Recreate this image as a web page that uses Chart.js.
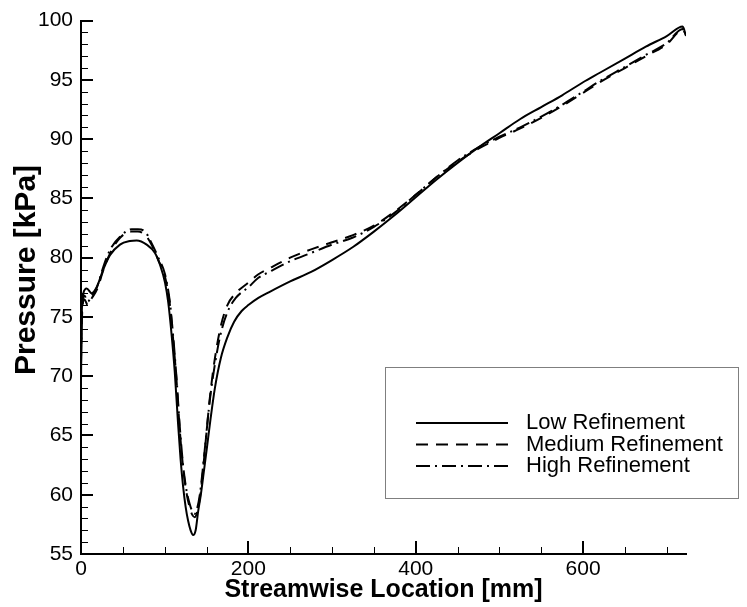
<!DOCTYPE html>
<html><head><meta charset="utf-8">
<script src="https://cdn.jsdelivr.net/npm/chart.js@4.4.1/dist/chart.umd.min.js"></script>
<style>html,body{margin:0;padding:0;background:#fff;}#wrap{width:747px;height:607px;}</style>
</head><body><div id="wrap"><canvas id="c" width="747" height="607"></canvas></div>
<script>
// ---- data (streamwise location [mm], pressure [kPa]) ----
const seriesLabels = ["Low Refinement", "Medium Refinement", "High Refinement"];
const xTitle = "Streamwise Location [mm]";
const yTitle = "Pressure [kPa]";
const lowX = [0,1,2.8,6.8,12.8,18.7,26.6,34.6,46.6,58.5,66.5,78.5,88.4,94.4,100.4,104.3,108.4,112,116,119,122,125,128,131,134,137,140,143,146,150,155,160,167,175,183,192,200,212,225,250,275,300,325,350,375,400,425,450,475,500,525,550,575,600,620,650,675,700,719,723];
const lowY = [69.5,75.5,77.0,77.4,77.0,77.5,79.0,80.2,81.1,81.4,81.45,81.1,80.4,79.4,77.9,76.2,73.4,70.4,66.0,63.0,60.7,59.0,57.8,57.0,56.6,57.0,58.6,59.9,61.5,63.7,66.5,69.0,71.5,73.3,74.6,75.5,76.0,76.6,77.1,78.0,78.8,79.8,80.9,82.2,83.6,85.1,86.6,88.0,89.3,90.5,91.7,92.7,93.7,94.8,95.6,96.8,97.8,98.7,99.5,98.7];
const medX = [0,1.5,4,8,13,19,27,35,47,60,68,77,85,92.4,100.4,106.3,110,114,118,122,126,130,133,136,139,142,145,149,154,160,167,175,185,200,212,225,250,275,300,325,350,375,400,425,450,475,500,525,550,575,600,620,650,675,700,719,723];
const medY = [71,75.5,76.5,76.0,76.6,77.3,79.0,80.4,81.7,82.2,82.2,81.9,81.0,79.8,78.4,76.0,73.2,69.8,65.5,62.3,60.2,58.9,58.3,58.1,58.6,59.7,61.5,64.5,68.2,71.5,74.2,76.0,77.0,77.9,78.6,79.1,80.0,80.7,81.3,81.9,82.7,83.9,85.3,86.8,88.1,89.2,90.1,90.9,91.8,92.8,93.9,94.8,96.0,97.0,98.0,99.2,98.8];
const highX = [0,1.5,4,8,13,19,27,35,48.6,60.5,68,76.5,84.5,92.4,100.4,106.3,110,114,118,122,126,130,133,136,139,142,145,149,154,160,167,175,185,200,212,225,250,275,300,325,350,375,400,425,450,475,500,525,550,575,600,620,650,675,700,719,723];
const highY = [71.5,76,76.8,76.3,76.8,77.5,79.3,80.7,81.9,82.4,82.4,82.2,81.2,80.0,78.6,76.2,73.5,70.0,65.8,62.5,60.4,59.2,58.6,58.4,58.9,60.0,61.8,64.6,68.0,71.0,73.6,75.4,76.6,77.5,78.3,78.8,79.7,80.4,81.1,81.7,82.6,83.8,85.3,86.8,88.2,89.3,90.2,91.0,91.9,92.9,94.0,94.9,96.1,97.1,98.1,99.3,98.9];
const xTickValues = [0,200,400,600];
const yTickValues = [55,60,65,70,75,80,85,90,95,100];
const xMinorValues = [50,100,150,250,300,350,450,500,550,650,700];
const yMinorValues = [];
for (let v = 56; v < 100; v++) if (v % 5 !== 0) yMinorValues.push(v);

const pts = (xs, ys) => xs.map((x, i) => ({x, y: ys[i]}));
const FONT = "'Liberation Sans', Arial, Helvetica, sans-serif";
Chart.defaults.font.family = FONT;
Chart.defaults.color = '#000';

const tickPlugin = {
  id: 'inwardTicks',
  afterDatasetsDraw(chart) {
    const {ctx, chartArea: a, scales: {x, y}} = chart;
    ctx.save();
    ctx.strokeStyle = '#000';
    const drawY = (vals, len, w) => { ctx.lineWidth = w; vals.forEach(v => { const p = Math.round(y.getPixelForValue(v)) + (w % 2 ? 0.5 : 0); ctx.beginPath(); ctx.moveTo(a.left, p); ctx.lineTo(a.left + len, p); ctx.stroke(); }); };
    const drawX = (vals, len, w) => { ctx.lineWidth = w; vals.forEach(v => { const p = Math.round(x.getPixelForValue(v)) + (w % 2 ? 0.5 : 0); ctx.beginPath(); ctx.moveTo(p, a.bottom); ctx.lineTo(p, a.bottom - len); ctx.stroke(); }); };
    drawY(yTickValues, 12, 2); drawY(yMinorValues, 7, 1);
    drawX(xTickValues, 13, 2); drawX(xMinorValues, 7, 1);
    ctx.restore();
  }
};

const yTitlePlugin = {
  id: 'yTitle',
  afterDraw(chart) {
    const ctx = chart.ctx;
    ctx.save();
    ctx.translate(27, 270);
    ctx.rotate(-Math.PI / 2);
    ctx.font = "bold 30px " + FONT;
    ctx.fillStyle = '#000';
    ctx.textAlign = 'center'; ctx.textBaseline = 'middle';
    ctx.fillText(yTitle, 0, 0);
    ctx.restore();
  }
};

const legendPlugin = {
  id: 'boxLegend',
  afterDraw(chart) {
    const ctx = chart.ctx;
    ctx.save();
    ctx.strokeStyle = '#7f7f7f'; ctx.lineWidth = 1;
    ctx.strokeRect(385.5, 367.5, 353, 131);
    chart.data.datasets.forEach((ds, i) => {
      const yy = 423 + i * 21.5;
      ctx.strokeStyle = '#000'; ctx.lineWidth = ds.borderWidth;
      ctx.setLineDash(ds.borderDash || []);
      ctx.beginPath(); ctx.moveTo(416, yy); ctx.lineTo(508, yy); ctx.stroke();
      ctx.setLineDash([]);
      ctx.fillStyle = '#000'; ctx.font = "22px " + FONT; ctx.textBaseline = 'middle';
      ctx.fillText(ds.label, 526, yy);
    });
    ctx.restore();
  }
};

new Chart(document.getElementById('c'), {
  type: 'line',
  data: { datasets: [
    { label: seriesLabels[0], data: pts(lowX, lowY), borderColor: '#000', borderWidth: 2, pointRadius: 0, fill: false, cubicInterpolationMode: 'monotone' },
    { label: seriesLabels[1], data: pts(medX, medY), borderColor: '#000', borderWidth: 2, borderDash: [12, 8], pointRadius: 0, fill: false, cubicInterpolationMode: 'monotone' },
    { label: seriesLabels[2], data: pts(highX, highY), borderColor: '#000', borderWidth: 2, borderDash: [14, 5, 2, 5], pointRadius: 0, fill: false, cubicInterpolationMode: 'monotone' }
  ]},
  options: {
    responsive: false, animation: false, devicePixelRatio: 1,
    layout: { padding: { left: 0, top: 15, right: 61, bottom: 0 } },
    plugins: { legend: { display: false }, tooltip: { enabled: false } },
    scales: {
      x: { type: 'linear', min: 0, max: 723,
        afterBuildTicks: s => { s.ticks = xTickValues.map(v => ({value: v})); },
        afterFit: s => { s.height = 53; },
        grid: { display: false, drawTicks: false }, border: { display: true, color: '#000', width: 2 },
        ticks: { font: { size: 21 }, padding: 3, maxRotation: 0, color: '#000' },
        title: { display: true, text: xTitle, font: { size: 25, weight: 'bold' }, padding: { top: 0, bottom: 2 }, color: '#000' } },
      y: { type: 'linear', min: 55, max: 100,
        afterBuildTicks: s => { s.ticks = yTickValues.map(v => ({value: v})); },
        afterFit: s => { s.width = 81; },
        grid: { display: false, drawTicks: false }, border: { display: true, color: '#000', width: 2 },
        ticks: { font: { size: 21 }, padding: 8, color: '#000' },
        title: { display: false } }
    }
  },
  plugins: [tickPlugin, legendPlugin, yTitlePlugin]
});
</script></body></html>
